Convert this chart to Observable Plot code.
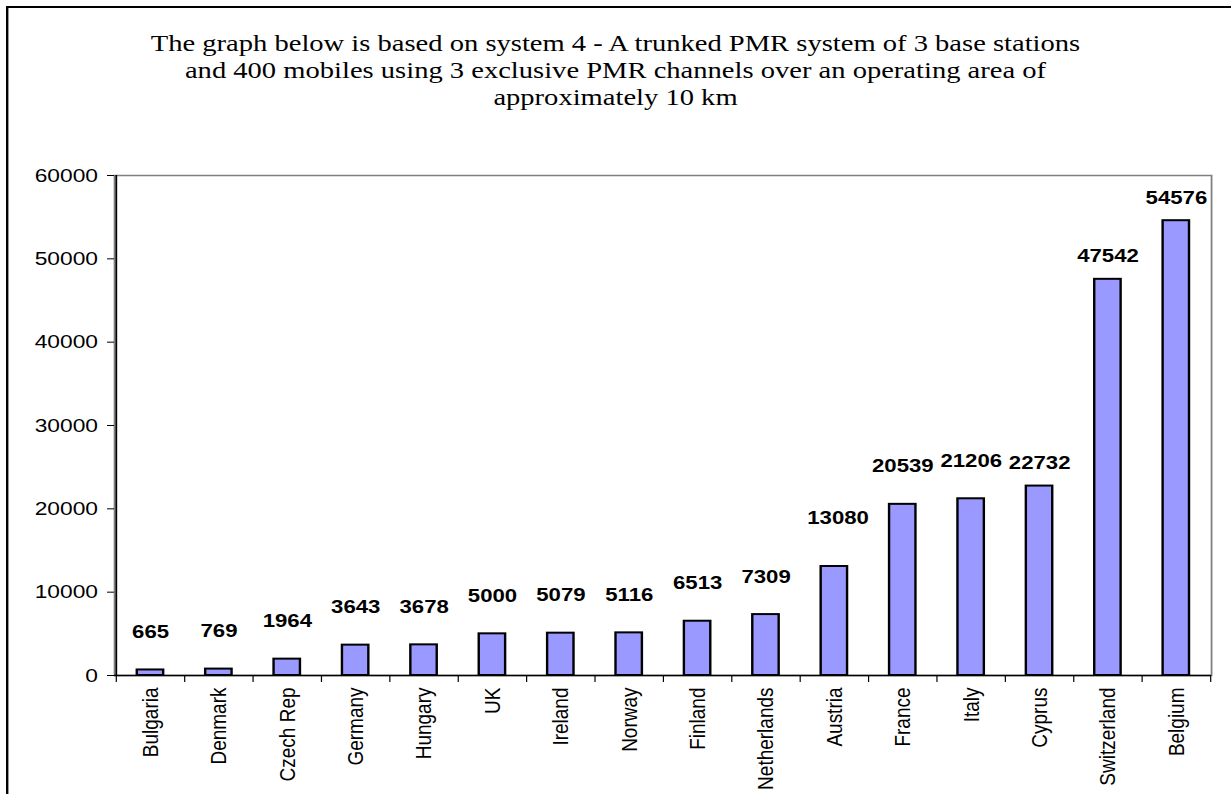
<!DOCTYPE html>
<html>
<head>
<meta charset="utf-8">
<script src="https://cdn.jsdelivr.net/npm/d3@7"></script>
<script src="https://cdn.jsdelivr.net/npm/@observablehq/plot@0.6"></script>
<style>
  html, body { margin: 0; padding: 0; overflow: hidden; background: #fff; width: 1231px; height: 794px; }
  #page { position: absolute; left: 0; top: 0; width: 1026px; height: 794px; transform: scaleX(1.19981); transform-origin: 0 0; }
  #border { position: absolute; left: 5.3px; top: 6px; width: 1200px; height: 1000px; border: 2px solid #000; box-sizing: border-box; }
  #title { position: absolute; left: 0; top: 30px; width: 1026px; text-align: center; font-family: "Liberation Serif", "Times New Roman", serif; font-size: 23.8px; line-height: 27px; color: #000; }
  #chart { position: absolute; left: 0; top: 150px; }
</style>
</head>
<body>
<div id="page">
  <div id="border"></div>
  <div id="title">The graph below is based on system 4 - A trunked PMR system of 3 base stations<br>and 400 mobiles using 3 exclusive PMR channels over an operating area of<br>approximately 10 km</div>
  <div id="chart"></div>
</div>
<script>
const countries = ["Bulgaria", "Denmark", "Czech Rep", "Germany", "Hungary", "UK", "Ireland", "Norway", "Finland", "Netherlands", "Austria", "France", "Italy", "Cyprus", "Switzerland", "Belgium"];
const values = [665, 769, 1964, 3643, 3678, 5000, 5079, 5116, 6513, 7309, 13080, 20539, 21206, 22732, 47542, 54576];
const yTicks = [0, 10000, 20000, 30000, 40000, 50000, 60000];

const data = countries.map((c, i) => ({country: c, value: values[i]}));

const W = 1026, H = 644;
const mL = 95, mR = 16.7, mT = 25, mB = 119;
const step = (W - mL - mR) / countries.length;

// data labels were placed by hand in the original; three placement groups
const lowLabels = data.filter(d => !["Austria", "Cyprus", "Switzerland", "Belgium"].includes(d.country));
const austriaLabel = data.filter(d => d.country === "Austria");
const highLabels = data.filter(d => ["Cyprus", "Switzerland", "Belgium"].includes(d.country));
const labelStyle = {x: "country", y: "value", text: d => String(d.value), fontWeight: "bold", fontSize: 18.5, fill: "#000"};

const chart = Plot.plot({
  width: W,
  height: H,
  marginLeft: mL,
  marginRight: mR,
  marginTop: mT,
  marginBottom: mB,
  style: {fontFamily: "'Liberation Sans', Arial, sans-serif", color: "#000", background: "transparent", overflow: "visible"},
  x: {domain: countries, paddingInner: 0.62, paddingOuter: 0.31},
  y: {domain: [0, 60000]},
  marks: [
    Plot.frame({stroke: "#808080", strokeWidth: 1.5}),
    Plot.barY(data, {x: "country", y: "value", fill: "#9999FF", stroke: "#000", strokeWidth: 2}),
    Plot.ruleY([0], {stroke: "#000", strokeWidth: 1.5}),
    Plot.ruleX([countries[0]], {dx: -step / 2, stroke: "#000", strokeWidth: 1.5}),
    Plot.axisY({ticks: yTicks, tickSize: 5.8, tickPadding: 8, fontSize: 19, label: null, tickFormat: d => String(d)}),
    Plot.axisX({ticks: countries, tickSize: 7, tickFormat: () => "", dx: -step / 2, label: null}),
    Plot.axisX({ticks: [countries[countries.length - 1]], tickSize: 7, tickFormat: () => "", dx: step / 2, label: null}),
    Plot.axisX({tickSize: 0, tickPadding: 12, tickRotate: -90, fontSize: 19, label: null}),
    Plot.text(lowLabels, {...labelStyle, dy: -38}),
    Plot.text(austriaLabel, {...labelStyle, dy: -48, dx: 3}),
    Plot.text(highLabels, {...labelStyle, dy: -23})
  ]
});
document.getElementById("chart").appendChild(chart);
</script>
</body>
</html>
